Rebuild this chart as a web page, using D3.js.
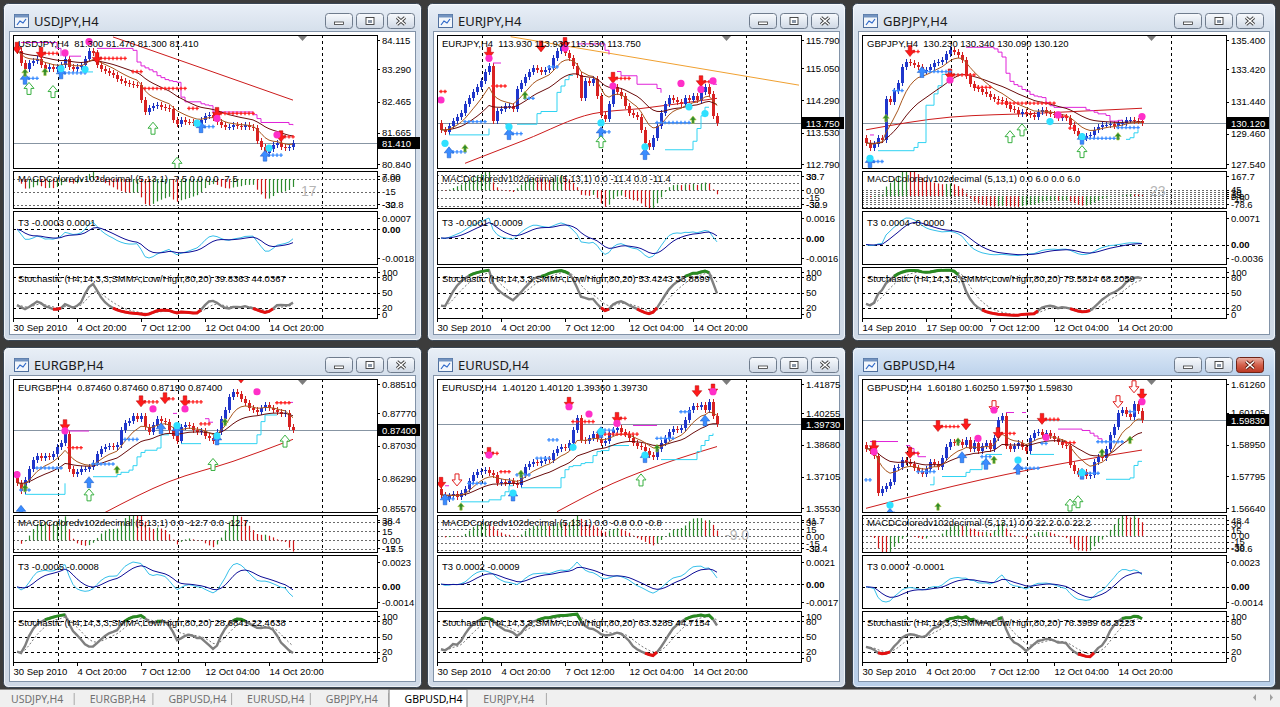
<!DOCTYPE html>
<html>
<head>
<meta charset="utf-8">
<script src="https://cdn.jsdelivr.net/npm/d3@7"></script>
<style>
body { margin: 0; background: #3c3c3c; overflow: hidden; }
svg { display: block; }
.mt { font-family: "Liberation Sans", Arial, sans-serif; font-size: 9.5px; fill: #000; white-space: pre; }
.ttl { font-family: "Noto Sans", sans-serif; font-size: 13px; fill: #1b1b1b; }
.tab { font-family: "Noto Sans", sans-serif; font-size: 10.5px; fill: #707070; }
</style>
</head>
<body>
<script>
//----------DATA----------
var tabNames = ['USDJPY,H4', 'EURGBP,H4', 'GBPUSD,H4', 'EURUSD,H4', 'GBPJPY,H4', 'GBPUSD,H4', 'EURJPY,H4'];
var activeTab = 5;

var timeLabels = ['30 Sep 2010', '4 Oct 20:00', '7 Oct 12:00', '12 Oct 04:00', '14 Oct 20:00'];
var gbpjpyTimeLabels = ['14 Sep 2010', '17 Sep 00:00', '7 Oct 12:00', '12 Oct 04:00', '14 Oct 20:00'];
var timeLabelBars = [-1, 15, 31, 47, 63];
var gridBars = [10.25, 40.25, 76.25];
var gbpjpyGridBars = [21.25, 40.25, 76.25];
var macdLevels = [-75, -60, -45, -30, -15, 0, 15, 30, 45];

// closes, the first value is the close before the first visible bar
var usdjpyClose = [83.90,
  83.75, 83.45, 83.30, 83.45, 83.50, 83.55, 83.40, 83.30, 83.35, 83.30,
  83.35, 83.40, 83.55, 83.35, 83.30, 83.35, 83.40, 83.55, 83.75, 83.70,
  83.40, 83.30, 83.25, 83.20, 83.15, 83.05, 83.00, 82.95, 82.92, 82.90,
  82.88, 82.50, 82.20, 82.30, 82.35, 82.38, 82.33, 82.30, 82.28, 82.00,
  81.90, 82.00, 81.95, 81.93, 81.92, 81.90, 82.00, 82.10, 82.12, 82.05,
  81.95, 81.85, 81.80, 81.80, 81.85, 81.83, 81.82, 81.85, 81.80, 81.78,
  81.45, 81.30, 81.15, 81.25, 81.35, 81.40, 81.30, 81.28, 81.30, 81.41];
var eurjpyClose = [113.75,
  113.60, 113.55, 113.70, 113.80, 113.90, 114.00, 114.20, 114.35, 114.50, 114.60,
  114.75, 114.95, 115.10, 113.80, 114.05, 114.10, 114.15, 114.15, 114.10, 114.55,
  114.70, 114.85, 114.95, 115.05, 115.00, 114.95, 115.00, 115.05, 115.30, 115.45,
  115.55, 115.40, 115.30, 115.10, 114.90, 114.35, 114.75, 114.70, 114.80, 114.40,
  113.95, 113.85, 114.20, 114.60, 114.50, 114.40, 114.15, 114.00, 113.95, 113.90,
  113.60, 113.30, 113.20, 113.40, 113.70, 114.00, 114.20, 114.35, 114.30, 114.25,
  114.20, 114.35, 114.30, 114.40, 114.30, 114.50, 114.60, 114.45, 113.93, 113.75];
var gbpjpyClose = [129.20,
  128.90, 128.60, 128.80, 129.20, 129.10, 131.60, 131.40, 132.10, 132.60, 133.60,
  133.90, 133.80, 133.70, 133.60, 133.30, 133.40, 133.60, 133.80, 133.90, 134.00,
  134.40, 134.60, 134.50, 134.30, 134.00, 133.00, 132.50, 132.30, 132.20, 132.00,
  131.90, 131.70, 131.60, 131.55, 131.50, 131.20, 131.00, 130.90, 130.70, 130.80,
  130.70, 130.60, 130.50, 130.80, 130.90, 130.75, 130.70, 130.60, 130.40, 130.50,
  130.40, 130.00, 129.60, 129.30, 129.20, 129.30, 129.40, 129.70, 129.90, 130.00,
  130.00, 130.05, 129.95, 130.10, 130.15, 130.30, 130.30, 130.25, 130.23, 130.12];
var eurgbpClose = [0.8640,
  0.8620, 0.8600, 0.8625, 0.8650, 0.8670, 0.8680, 0.8675, 0.8680, 0.8677, 0.8685,
  0.8700, 0.8710, 0.8730, 0.8650, 0.8640, 0.8645, 0.8650, 0.8650, 0.8655, 0.8665,
  0.8685, 0.8695, 0.8700, 0.8702, 0.8700, 0.8705, 0.8740, 0.8755, 0.8760, 0.8770,
  0.8765, 0.8770, 0.8745, 0.8735, 0.8750, 0.8765, 0.8760, 0.8758, 0.8740, 0.8725,
  0.8715, 0.8745, 0.8750, 0.8748, 0.8740, 0.8735, 0.8738, 0.8725, 0.8720, 0.8715,
  0.8735, 0.8765, 0.8785, 0.8815, 0.8825, 0.8820, 0.8810, 0.8800, 0.8790, 0.8785,
  0.8780, 0.8790, 0.8795, 0.8790, 0.8785, 0.8780, 0.8775, 0.8778, 0.8746, 0.8740];
var eurusdClose = [1.3650,
  1.3620, 1.3600, 1.3615, 1.3625, 1.3610, 1.3630, 1.3650, 1.3690, 1.3720, 1.3735,
  1.3740, 1.3745, 1.3730, 1.3720, 1.3680, 1.3685, 1.3680, 1.3690, 1.3680, 1.3670,
  1.3720, 1.3760, 1.3775, 1.3785, 1.3780, 1.3790, 1.3800, 1.3795, 1.3830, 1.3850,
  1.3860, 1.3855, 1.3880, 1.3940, 1.4000, 1.3895, 1.3890, 1.3905, 1.3920, 1.3900,
  1.3880, 1.3890, 1.3925, 1.3940, 1.3950, 1.3930, 1.3920, 1.3905, 1.3880, 1.3865,
  1.3860, 1.3840, 1.3820, 1.3810, 1.3850, 1.3880, 1.3905, 1.3930, 1.3945, 1.3940,
  1.3950, 1.3990, 1.4040, 1.4060, 1.4055, 1.4065, 1.4040, 1.4080, 1.4012, 1.3973];
var gbpusdClose = [1.5895,
  1.5880, 1.5870, 1.5855, 1.5720, 1.5735, 1.5745, 1.5760, 1.5810, 1.5815, 1.5840,
  1.5830, 1.5825, 1.5810, 1.5800, 1.5790, 1.5805, 1.5830, 1.5825, 1.5815, 1.5845,
  1.5885, 1.5905, 1.5900, 1.5905, 1.5895, 1.5910, 1.5880, 1.5900, 1.5870, 1.5890,
  1.5900, 1.5880, 1.5920, 1.5985, 1.6000, 1.5890, 1.5880, 1.5890, 1.5900, 1.5885,
  1.5870, 1.5920, 1.5935, 1.5940, 1.5930, 1.5935, 1.5925, 1.5915, 1.5905, 1.5895,
  1.5890, 1.5820, 1.5800, 1.5790, 1.5795, 1.5780, 1.5785, 1.5830, 1.5850, 1.5845,
  1.5880, 1.5930, 1.5960, 1.6010, 1.6020, 1.6005, 1.5995, 1.6040, 1.6018, 1.5983];

// price pane extremes and right-axis labels
var usdjpyRange = [80.76, 84.17];
var eurjpyRange = [112.70, 115.83];
var gbpjpyRange = [127.35, 135.54];
var eurgbpRange = [0.85531, 0.88549];
var eurusdRange = [1.35345, 1.41960];
var gbpusdRange = [1.56507, 1.61322];
var usdjpyTicks = [84.115, 83.290, 82.465, 81.665, 80.840];
var eurjpyTicks = [115.790, 115.050, 114.290, 113.530, 112.790];
var gbpjpyTicks = [135.400, 133.420, 131.440, 129.460, 127.540];
var eurgbpTicks = [0.88510, 0.87770, 0.87030, 0.86290, 0.85570];
var eurusdTicks = [1.41875, 1.40255, 1.38680, 1.37105, 1.35530];
var gbpusdTicks = [1.61260, 1.60105, 1.58950, 1.57795, 1.56640];

var usdjpyHeader = 'USDJPY,H4  81.300 81.470 81.300 81.410';
var eurjpyHeader = 'EURJPY,H4  113.930 113.930 113.530 113.750';
var gbpjpyHeader = 'GBPJPY,H4  130.230 130.340 130.090 130.120';
var eurgbpHeader = 'EURGBP,H4  0.87460 0.87460 0.87190 0.87400';
var eurusdHeader = 'EURUSD,H4  1.40120 1.40120 1.39360 1.39730';
var gbpusdHeader = 'GBPUSD,H4  1.60180 1.60250 1.59730 1.59830';

// slow moving average read as knots [bar, price]
var usdjpyLongMa = [[24, 84.12], [46, 83.33], [69, 82.50]];
var eurjpyLongMa = [[6, 112.81], [21, 113.36], [38, 113.98], [50, 114.10], [69, 114.34]];
var gbpjpyLongMa = [[0, 129.70], [21, 130.48], [43, 130.72], [69, 131.03]];
var eurgbpLongMa = [[22, 0.8552], [38, 0.8622], [54, 0.8668], [69, 0.8718]];
var eurusdLongMa = [[29, 1.3536], [43, 1.3677], [56, 1.3777], [69, 1.3860]];
var gbpusdLongMa = [[0, 1.5664], [29, 1.5768], [54, 1.5839], [69, 1.5875]];
var eurjpyTrend = [[17.4, 115.79], [89.5, 114.65]];

// signal marks: [type, bar, price, dotted length]
var usdjpyMarks = [
  ['sell', 0, 83.83, 0], ['sell', 6, 83.70, 4], ['sell', 20, 83.57, 7], ['sell', 50, 82.16, 9], ['sell', 66, 81.56, 3],
  ['rdots', 29, 83.23, 3], ['rdots', 32, 82.80, 11], ['rdots', 43, 82.29, 3],
  ['buy', 2, 83.06, 3], ['buy', 11, 83.20, 6], ['buy', 46, 81.82, 3], ['buy', 62, 81.09, 4],
  ['hollow', 3, 82.80], ['hollow', 9, 82.72], ['hollow', 34, 81.78], ['hollow', 40, 80.88],
  ['green', 2, 83.20], ['green', 7, 83.22],
  ['pink', 18, 84.00], ['pink', 12, 83.71], ['pink', 50, 82.03], ['pink', 65, 81.61],
  ['cyan', 11, 83.31], ['cyan', 17, 83.29], ['cyan', 45, 81.91], ['cyan', 63, 81.27]];
var eurjpyMarks = [
  ['sell', 12, 115.40, 0], ['sell', 25, 115.55, 0], ['sell', 31, 115.63, 0], ['sell', 43, 114.81, 4], ['sell', 65, 114.73, 3],
  ['rdots', 13, 114.63, 4], ['rdots', 0, 114.50, 2],
  ['buy', 2, 113.08, 4], ['buy', 17, 113.51, 3], ['buy', 40, 113.55, 2], ['buy', 51, 113.04, 0],
  ['bdots', 6, 113.79, 6], ['bdots', 27, 115.08, 3], ['bdots', 21, 114.34, 3], ['bdots', 54, 113.77, 9],
  ['hollow', 40, 113.32],
  ['green', 6, 113.16], ['green', 21, 114.41], ['green', 63, 113.83],
  ['pink', 12, 115.28], ['pink', 31, 115.52], ['pink', 43, 114.63], ['pink', 60, 114.69], ['pink', 65, 114.55], ['pink', 68, 114.75], ['pink', 0, 114.30],
  ['cyan', 1, 113.28], ['cyan', 17, 113.67], ['cyan', 40, 113.76], ['cyan', 51, 113.20], ['cyan', 62, 114.14], ['cyan', 66, 113.98]];
var gbpjpyMarks = [
  ['sell', 11, 134.52, 2], ['sell', 21, 133.08, 6],
  ['rdots', 28, 132.32, 4], ['rdots', 33, 131.34, 15], ['rdots', 49, 130.52, 2], ['rdots', 51, 129.80, 2],
  ['buy', 1, 127.75, 3], ['buy', 14, 133.29, 7], ['buy', 54, 129.18, 9],
  ['bdots', 7, 132.12, 3], ['bdots', 63, 129.84, 6],
  ['hollow', 36, 129.28], ['hollow', 39, 129.70], ['hollow', 54, 128.36],
  ['green', 5, 130.41], ['green', 63, 129.29],
  ['pink', 21, 132.77], ['pink', 48, 130.62], ['pink', 69, 130.52],
  ['cyan', 1, 127.95], ['cyan', 46, 130.21], ['cyan', 54, 129.29]];
var eurgbpMarks = [
  ['sell', 12, 0.8749, 0], ['sell', 31, 0.8803, 4], ['sell', 37, 0.8810, 2], ['sell', 42, 0.8803, 4], ['sell', 56, 0.8857, 4],
  ['rdots', 13, 0.8699, 4], ['rdots', 46, 0.8753, 3], ['rdots', 65, 0.8801, 4],
  ['buy', 1, 0.8557, 0], ['buy', 18, 0.8622, 0], ['buy', 36, 0.8744, 0], ['buy', 40, 0.8740, 0], ['buy', 50, 0.8719, 0],
  ['bdots', 5, 0.8653, 7], ['bdots', 1, 0.8603, 3], ['bdots', 27, 0.8718, 4], ['bdots', 19, 0.8662, 6],
  ['hollow', 18, 0.8592], ['hollow', 49, 0.8661], ['hollow', 67, 0.8714],
  ['green', 2, 0.8607], ['green', 25, 0.8649], ['green', 52, 0.8757],
  ['pink', 12, 0.8737], ['pink', 34, 0.8787], ['pink', 42, 0.8787], ['pink', 60, 0.8826], ['pink', 0, 0.8638],
  ['cyan', 50, 0.8726], ['cyan', 40, 0.8749]];
var eurusdMarks = [
  ['sell', 0, 1.3677, 0], ['sell', 12, 1.3826, 2], ['sell', 32, 1.4075, 0], ['sell', 44, 1.4000, 2], ['sell', 64, 1.4133, 0], ['sell', 68, 1.4141, 0],
  ['rdots', 15, 1.3735, 3], ['rdots', 33, 1.3984, 6], ['rdots', 41, 1.3922, 9],
  ['buy', 1, 1.3600, 2], ['buy', 18, 1.3619, 0], ['buy', 40, 1.3934, 0], ['buy', 51, 1.3810, 0], ['buy', 66, 1.3992, 0],
  ['bdots', 7, 1.3677, 5], ['bdots', 24, 1.3802, 4], ['bdots', 27, 1.3893, 3], ['bdots', 19, 1.3719, 4], ['bdots', 54, 1.3901, 5], ['bdots', 60, 1.4033, 3], ['bdots', 41, 1.3942, 3],
  ['hollow', 50, 1.3694], ['hollowDown', 4, 1.3694],
  ['green', 5, 1.3561], ['green', 20, 1.3723], ['green', 54, 1.3851],
  ['pink', 12, 1.3818], ['pink', 32, 1.4058], ['pink', 37, 1.4022], ['pink', 44, 1.3975], ['pink', 68, 1.4133],
  ['cyan', 33, 1.3856], ['cyan', 40, 1.3934], ['cyan', 51, 1.3818], ['cyan', 18, 1.3629]];
var gbpusdMarks = [
  ['sell', 2, 1.5887, 0], ['sell', 11, 1.5863, 2], ['sell', 18, 1.5960, 5], ['sell', 25, 1.5966, 0], ['sell', 33, 1.5935, 4], ['sell', 44, 1.5986, 4], ['sell', 69, 1.6074, 0],
  ['rdots', 50, 1.5902, 3],
  ['buy', 6, 1.5646, 1], ['buy', 24, 1.5851, 0], ['buy', 30, 1.5827, 0], ['buy', 38, 1.5809, 5], ['buy', 54, 1.5791, 4],
  ['bdots', 0, 1.5767, 2], ['bdots', 13, 1.5797, 5], ['bdots', 44, 1.5899, 2], ['bdots', 58, 1.5905, 7], ['bdots', 29, 1.5851, 3], ['bdots', 66, 1.6014, 2],
  ['hollowDown', 32, 1.6032], ['hollowDown', 63, 1.6050], ['hollowDown', 67, 1.6104],
  ['hollow', 51, 1.5676], ['hollow', 53, 1.5688],
  ['green', 18, 1.5670], ['green', 23, 1.5905], ['green', 32, 1.5839], ['green', 59, 1.5865], ['green', 66, 1.5911],
  ['pink', 2, 1.5869], ['pink', 28, 1.5917], ['pink', 32, 1.6020], ['pink', 45, 1.5921], ['pink', 69, 1.6050],
  ['cyan', 6, 1.5676], ['cyan', 38, 1.5839], ['cyan', 54, 1.5793]];

// indicator sub-window labels
var usdjpyMacdText = 'MACDColoredv102decimal (5,13,1) -7.5 0.0 0.0 -7.5';
var eurjpyMacdText = 'MACDColoredv102decimal (5,13,1) 0.0 -11.4 0.0 -11.4';
var gbpjpyMacdText = 'MACDColoredv102decimal (5,13,1) 0.0 6.0 0.0 6.0';
var eurgbpMacdText = 'MACDColoredv102decimal (5,13,1) 0.0 -12.7 0.0 -12.7';
var eurusdMacdText = 'MACDColoredv102decimal (5,13,1) 0.0 -0.8 0.0 -0.8';
var gbpusdMacdText = 'MACDColoredv102decimal (5,13,1) 0.0 22.2 0.0 22.2';
var usdjpyMacdAxis = [[7, '7.00'], [0, '0.00'], [-15, '-15'], [-30, '-30'], [-32.8, '-32.8']];
var eurjpyMacdAxis = [[33.7, '33.7'], [30, '30'], [0, '0.00'], [-15, '-15'], [-30, '-30'], [-32.9, '-32.9']];
var gbpjpyMacdAxis = [[167.7, '167.7'], [45, '45'], [30, '30'], [15, '15'], [0, '0.00'], [-15, '-15'], [-78.6, '-78.6']];
var eurgbpMacdAxis = [[38.4, '38.4'], [30, '30'], [15, '15'], [0, '0.00'], [-15, '-15'], [-17.5, '-17.5']];
var eurusdMacdAxis = [[41.7, '41.7'], [30, '30'], [15, '15'], [0, '0.00'], [-15, '-15'], [-30, '-30'], [-32.4, '-32.4']];
var gbpusdMacdAxis = [[48.4, '48.4'], [30, '30'], [15, '15'], [0, '0.00'], [-15, '-15'], [-30, '-30'], [-38.6, '-38.6']];
var macdTags = ['17', '', '23', '', '-9.0', ''];

var usdjpyT3Text = 'T3 -0.0003 0.0001';
var eurjpyT3Text = 'T3 -0.0001 -0.0009';
var gbpjpyT3Text = 'T3 0.0004 -0.0000';
var eurgbpT3Text = 'T3 -0.0005 -0.0008';
var eurusdT3Text = 'T3 0.0002 -0.0009';
var gbpusdT3Text = 'T3 0.0007 -0.0001';
var usdjpyT3Axis = ['0.0007', '-0.0018'];
var eurjpyT3Axis = ['0.0016', '-0.0016'];
var gbpjpyT3Axis = ['0.0071', '-0.0036'];
var eurgbpT3Axis = ['0.0023', '-0.0014'];
var eurusdT3Axis = ['0.0021', '-0.0017'];
var gbpusdT3Axis = ['0.0023', '-0.0014'];

var stochName = 'Stochastic (H4,14,3,3,SMMA,Low/High,80,20) ';
var usdjpyStoch = '39.8363 44.0367';
var eurjpyStoch = '53.4243 33.8899';
var gbpjpyStoch = '75.5814 68.2059';
var eurgbpStoch = '28.6841 22.4638';
var eurusdStoch = '63.3285 44.7154';
var gbpusdStoch = '76.3959 68.3223';
var stochAxis = [[100, '100'], [80, '80'], [50, '50'], [20, '20'], [0, '0']];

//----------LAYOUT----------
var colX = [3, 427, 852], colW = [419, 419, 424];
var rowY = [3, 347], rowH = [338, 341];
var P = {l: 10, r: 374, main: [32, 165], macd: [168, 205], t3: [208, 261], stoch: [264, 315], time: 328};
var WICK = 3; // wick length in px drawn above and below each body

var charts = [
  {sym: 'USDJPY', col: 0, row: 0, close: usdjpyClose, range: usdjpyRange, ticks: usdjpyTicks, digits: 3, header: usdjpyHeader, longMa: usdjpyLongMa, trend: null, marks: usdjpyMarks, macdText: usdjpyMacdText, macdAxis: usdjpyMacdAxis, t3Text: usdjpyT3Text, t3Axis: usdjpyT3Axis, stoch: usdjpyStoch, times: timeLabels, grid: gridBars},
  {sym: 'EURJPY', col: 1, row: 0, close: eurjpyClose, range: eurjpyRange, ticks: eurjpyTicks, digits: 3, header: eurjpyHeader, longMa: eurjpyLongMa, trend: eurjpyTrend, marks: eurjpyMarks, macdText: eurjpyMacdText, macdAxis: eurjpyMacdAxis, t3Text: eurjpyT3Text, t3Axis: eurjpyT3Axis, stoch: eurjpyStoch, times: timeLabels, grid: gridBars},
  {sym: 'GBPJPY', col: 2, row: 0, close: gbpjpyClose, range: gbpjpyRange, ticks: gbpjpyTicks, digits: 3, header: gbpjpyHeader, longMa: gbpjpyLongMa, trend: null, marks: gbpjpyMarks, macdText: gbpjpyMacdText, macdAxis: gbpjpyMacdAxis, t3Text: gbpjpyT3Text, t3Axis: gbpjpyT3Axis, stoch: gbpjpyStoch, times: gbpjpyTimeLabels, grid: gbpjpyGridBars},
  {sym: 'EURGBP', col: 0, row: 1, close: eurgbpClose, range: eurgbpRange, ticks: eurgbpTicks, digits: 5, header: eurgbpHeader, longMa: eurgbpLongMa, trend: null, marks: eurgbpMarks, macdText: eurgbpMacdText, macdAxis: eurgbpMacdAxis, t3Text: eurgbpT3Text, t3Axis: eurgbpT3Axis, stoch: eurgbpStoch, times: timeLabels, grid: gridBars},
  {sym: 'EURUSD', col: 1, row: 1, close: eurusdClose, range: eurusdRange, ticks: eurusdTicks, digits: 5, header: eurusdHeader, longMa: eurusdLongMa, trend: null, marks: eurusdMarks, macdText: eurusdMacdText, macdAxis: eurusdMacdAxis, t3Text: eurusdT3Text, t3Axis: eurusdT3Axis, stoch: eurusdStoch, times: timeLabels, grid: gridBars},
  {sym: 'GBPUSD', col: 2, row: 1, close: gbpusdClose, range: gbpusdRange, ticks: gbpusdTicks, digits: 5, header: gbpusdHeader, longMa: gbpusdLongMa, trend: null, marks: gbpusdMarks, macdText: gbpusdMacdText, macdAxis: gbpusdMacdAxis, t3Text: gbpusdT3Text, t3Axis: gbpusdT3Axis, stoch: gbpusdStoch, times: timeLabels, grid: gridBars, active: true}
];

//----------HELPERS----------
function ema(a, n) {
  var k = 2 / (n + 1), out = [], p;
  a.forEach(function (v, i) { p = i === 0 ? v : v * k + p * (1 - k); out.push(p); });
  return out;
}
function smma(a, n) {
  var out = [], p;
  a.forEach(function (v, i) { p = i === 0 ? v : (p * (n - 1) + v) / n; out.push(p); });
  return out;
}
function rolling(a, n, f) {
  return a.map(function (v, i) { return f(a.slice(Math.max(0, i - n + 1), i + 1)); });
}
// factor that fits an oscillator into the range its axis shows
function fitFactor(vals, lmin, lmax) {
  var hmax = d3.max(vals), hmin = d3.min(vals);
  var a = hmax > 0 ? lmax / hmax : Infinity, b = hmin < 0 ? lmin / hmin : Infinity;
  var f = Math.min(a, b);
  return isFinite(f) ? f : 1;
}

//----------SVG----------
var svg = d3.select('body').append('svg').attr('width', 1280).attr('height', 707);
var defs = svg.append('defs');
function grad(id, stops) {
  var lg = defs.append('linearGradient').attr('id', id).attr('x1', 0).attr('y1', 0).attr('x2', 0).attr('y2', 1);
  stops.forEach(function (s) { lg.append('stop').attr('offset', s[0]).attr('stop-color', s[1]); });
}
grad('frameOff', [[0, '#e9eff7'], [0.08, '#d6e0ec'], [1, '#cfd9e6']]);
grad('frameOn', [[0, '#dbe8f7'], [0.08, '#bed3ec'], [1, '#b9cfe9']]);
grad('btn', [[0, '#f8fafd'], [0.5, '#e4eaf2'], [1, '#cfd8e4']]);
grad('btnRed', [[0, '#eab2a6'], [0.5, '#d4604c'], [1, '#b93722']]);

svg.append('rect').attr('width', 1280).attr('height', 707).attr('fill', '#3c3c3c');

function drawFrame(g, c, ww, wh) {
  g.append('rect').attr('x', 0.5).attr('y', 0.5).attr('width', ww - 1).attr('height', wh - 1).attr('rx', 5)
    .attr('fill', c.active ? 'url(#frameOn)' : 'url(#frameOff)').attr('stroke', '#3a4654');
  g.append('rect').attr('x', 1.5).attr('y', 1.5).attr('width', ww - 3).attr('height', wh - 3).attr('rx', 4)
    .attr('fill', 'none').attr('stroke', 'rgba(255,255,255,0.65)');
  g.append('rect').attr('x', 6.5).attr('y', 28.5).attr('width', ww - 13).attr('height', wh - 35)
    .attr('fill', '#fff').attr('stroke', '#8293a8');
  var ic = g.append('g').attr('transform', 'translate(11,11)');
  ic.append('rect').attr('x', 0.5).attr('y', 0.5).attr('width', 14).attr('height', 13).attr('fill', '#f2f6fb').attr('stroke', '#4f6f9d');
  ic.append('rect').attr('x', 0.5).attr('y', 0.5).attr('width', 14).attr('height', 3).attr('fill', '#7393c0');
  ic.append('path').attr('d', 'M3,11 L6,7 L9,9 L12,5').attr('fill', 'none').attr('stroke', '#2c67c9').attr('stroke-width', 1.2);
  g.append('text').attr('class', 'ttl').attr('x', 31).attr('y', 23).text(c.sym + ',H4');
  [322, 353, 384].forEach(function (b, k) {
    var red = c.active && k === 2;
    g.append('rect').attr('x', b + 0.5).attr('y', 10.5).attr('width', 27).attr('height', 15).attr('rx', 3)
      .attr('fill', red ? 'url(#btnRed)' : 'url(#btn)').attr('stroke', red ? '#6e2418' : '#6f7c8d');
    var cx = b + 14, cy = 18;
    if (k === 0) {
      g.append('rect').attr('x', cx - 4.5).attr('y', cy + 1).attr('width', 9).attr('height', 2.5)
        .attr('fill', '#fff').attr('stroke', '#3a3a3a').attr('stroke-width', 0.8);
    } else if (k === 1) {
      g.append('rect').attr('x', cx - 4).attr('y', cy - 3.5).attr('width', 8).attr('height', 7)
        .attr('fill', '#fff').attr('stroke', '#3a3a3a').attr('stroke-width', 0.9);
      g.append('rect').attr('x', cx - 2).attr('y', cy - 1).attr('width', 4).attr('height', 3).attr('fill', '#8a96a6');
    } else {
      var xp = 'M' + (cx - 4) + ',' + (cy - 3.5) + 'L' + (cx + 4) + ',' + (cy + 3.5) + 'M' + (cx + 4) + ',' + (cy - 3.5) + 'L' + (cx - 4) + ',' + (cy + 3.5);
      g.append('path').attr('d', xp).attr('stroke', red ? '#5a1a10' : '#3a3a3a').attr('stroke-width', 3.2);
      g.append('path').attr('d', xp).attr('stroke', '#fff').attr('stroke-width', 1.5);
    }
  });
}

function drawChart(c, ci) {
  var wx = colX[c.col], wy = rowY[c.row], ww = colW[c.col], wh = rowH[c.row];
  var g = svg.append('g').attr('transform', 'translate(' + wx + ',' + wy + ')');
  drawFrame(g, c, ww, wh);

  var cl = c.close.slice(1);
  var bars = cl.map(function (v, i) { return {i: i, o: c.close[i], c: v}; });
  var x = d3.scaleLinear().domain([0, 1]).range([P.l + 4, P.l + 8]);
  var y = d3.scaleLinear().domain(c.range).range([P.main[1], P.main[0]]);
  // high / low of each drawn candle (body plus the drawn wick)
  var wickPrice = WICK * (c.range[1] - c.range[0]) / (P.main[1] - P.main[0]);
  var bh = bars.map(function (b) { return Math.max(b.o, b.c) + wickPrice; });
  var bl = bars.map(function (b) { return Math.min(b.o, b.c) - wickPrice; });

  function pane(name, ext) {
    var id = 'clip' + ci + name;
    defs.append('clipPath').attr('id', id).append('rect')
      .attr('x', P.l + 1).attr('y', ext[0] + 1).attr('width', P.r - P.l - 1).attr('height', ext[1] - ext[0] - 1);
    var pg = g.append('g').attr('clip-path', 'url(#' + id + ')');
    pg.selectAll('line.vg').data(c.grid).enter().append('line')
      .attr('x1', function (b) { return Math.round(x(b)) + 0.5; })
      .attr('x2', function (b) { return Math.round(x(b)) + 0.5; })
      .attr('y1', ext[0]).attr('y2', ext[1])
      .attr('stroke', '#000').attr('stroke-dasharray', '3,3');
    return pg;
  }
  function hline(pg, yy, color, dash) {
    pg.append('line').attr('x1', P.l).attr('x2', P.r)
      .attr('y1', Math.round(yy) + 0.5).attr('y2', Math.round(yy) + 0.5)
      .attr('stroke', color).attr('stroke-dasharray', dash || null);
  }
  function axisText(yy, txt, ext, bold) {
    var ty = Math.max(ext[0] + 5, Math.min(ext[1] - 4, yy));
    g.append('line').attr('x1', P.r).attr('x2', P.r + 3).attr('y1', Math.round(ty) + 0.5).attr('y2', Math.round(ty) + 0.5).attr('stroke', '#000');
    g.append('text').attr('class', 'mt').attr('x', P.r + 5).attr('y', ty + 3.5)
      .style('font-weight', bold ? 'bold' : null).text(txt);
  }
  function frame(ext) {
    g.append('rect').attr('x', P.l + 0.5).attr('y', ext[0] + 0.5).attr('width', P.r - P.l).attr('height', ext[1] - ext[0])
      .attr('fill', 'none').attr('stroke', '#000');
  }

  //----------MAIN PANE----------
  var mg = pane('m', P.main);
  var last = cl[cl.length - 1];
  hline(mg, y(last), '#8795a3');

  var line = d3.line().defined(function (d) { return d != null; })
    .x(function (d, i) { return x(i); }).y(function (d) { return y(d); });
  var knotLine = d3.line().x(function (d) { return x(d[0]); }).y(function (d) { return y(d[1]); });

  if (c.trend) {
    mg.append('path').attr('d', knotLine(c.trend)).attr('fill', 'none').attr('stroke', '#f0a030');
  }
  mg.append('path').attr('d', knotLine.curve(d3.curveMonotoneX)(c.longMa))
    .attr('fill', 'none').attr('stroke', '#cc1b1b');

  // candles
  var cg = mg.append('g').attr('shape-rendering', 'crispEdges');
  cg.selectAll('line').data(bars).enter().append('line')
    .attr('x1', function (d) { return Math.round(x(d.i)) + 0.5; })
    .attr('x2', function (d) { return Math.round(x(d.i)) + 0.5; })
    .attr('y1', function (d) { return y(bh[d.i]); })
    .attr('y2', function (d) { return y(bl[d.i]); })
    .attr('stroke', function (d) { return d.c >= d.o ? '#1b2fb8' : '#cf1f1f'; });
  cg.selectAll('rect').data(bars).enter().append('rect')
    .attr('x', function (d) { return Math.round(x(d.i)) - 1; })
    .attr('width', 3)
    .attr('y', function (d) { return y(Math.max(d.o, d.c)); })
    .attr('height', function (d) { return Math.max(1, Math.abs(y(d.o) - y(d.c))); })
    .attr('fill', function (d) { return d.c >= d.o ? '#1f36cc' : '#d82222'; });

  // moving averages and trailing stops
  var e8 = ema(cl, 8), e21 = ema(cl, 21);
  var hi = rolling(bh, 10, d3.max), lo = rolling(bl, 10, d3.min);
  var upper = hi.map(function (v, i) { return cl[i] < e21[i] ? v : null; });
  var lower = lo.map(function (v, i) { return cl[i] >= e21[i] ? v : null; });
  mg.append('path').attr('d', line.curve(d3.curveStepAfter)(upper)).attr('fill', 'none').attr('stroke', '#e022d8');
  mg.append('path').attr('d', line.curve(d3.curveStepAfter)(lower)).attr('fill', 'none').attr('stroke', '#2fd3f2');
  line.curve(d3.curveLinear);
  mg.append('path').attr('d', line(e21)).attr('fill', 'none').attr('stroke', '#6a0c0c');
  mg.append('path').attr('d', line(e8)).attr('fill', 'none').attr('stroke', '#a8561e');

  // signal marks
  var sg = mg.append('g');
  function dots(bar, price, len, color) {
    for (var k = 1; k <= len; k++) {
      var px = x(bar + k), py = y(price);
      sg.append('path').attr('d', 'M' + (px - 1.8) + ',' + py + 'h3.6M' + px + ',' + (py - 1.8) + 'v3.6')
        .attr('stroke', color).attr('stroke-width', 1.3);
    }
  }
  c.marks.forEach(function (m) {
    var t = m[0], px = x(m[1]), py = y(m[2]);
    var tr = 'translate(' + px + ',' + py + ')';
    if (t === 'sell') {
      dots(m[1], m[2], m[3], '#ff2020');
      sg.append('path').attr('transform', tr).attr('d', 'M-1.8,-6H1.8V-1H4.8L0,5L-4.8,-1H-1.8Z')
        .attr('fill', '#ff1a1a').attr('stroke', '#b00000').attr('stroke-width', 0.5);
    } else if (t === 'buy') {
      dots(m[1], m[2], m[3], '#3a8cff');
      sg.append('path').attr('transform', tr).attr('d', 'M-1.8,6H1.8V1H4.8L0,-5L-4.8,1H-1.8Z')
        .attr('fill', '#3a8cff').attr('stroke', '#1050c0').attr('stroke-width', 0.5);
    } else if (t === 'rdots') {
      dots(m[1] - 1, m[2], m[3], '#ff2020');
    } else if (t === 'bdots') {
      dots(m[1] - 1, m[2], m[3], '#3a8cff');
    } else if (t === 'hollow') {
      sg.append('path').attr('transform', tr).attr('d', 'M0,-6L5,0H2V6H-2V0H-5Z')
        .attr('fill', '#fff').attr('stroke', '#38b040');
    } else if (t === 'hollowDown') {
      sg.append('path').attr('transform', tr).attr('d', 'M0,6L5,0H2V-6H-2V0H-5Z')
        .attr('fill', '#fff').attr('stroke', '#e02020');
    } else if (t === 'green') {
      sg.append('path').attr('transform', tr).attr('d', 'M0,-4L3.2,0H1.2V3.5H-1.2V0H-3.2Z')
        .attr('fill', '#2e8b2e').attr('stroke', '#b0c840').attr('stroke-width', 0.6);
    } else if (t === 'pink') {
      sg.append('circle').attr('cx', px).attr('cy', py).attr('r', 3.6).attr('fill', '#ff2fc8');
    } else if (t === 'cyan') {
      sg.append('circle').attr('cx', px).attr('cy', py).attr('r', 3.6).attr('fill', '#2fe0ff');
    }
  });

  // shift marker
  g.append('path').attr('d', 'M' + (P.r - 79) + ',' + (P.main[0] + 1) + 'h9l-4.5,5z').attr('fill', '#7d7d7d');
  frame(P.main);
  g.append('text').attr('class', 'mt').attr('x', P.l + 5).attr('y', P.main[0] + 12).text(c.header);
  var fmt = d3.format('.' + c.digits + 'f');
  c.ticks.forEach(function (v) { axisText(y(v), fmt(v), P.main); });
  var ly = Math.round(y(last));
  g.append('rect').attr('x', P.r + 1).attr('y', ly - 6).attr('width', 42).attr('height', 12).attr('fill', '#000');
  g.append('text').attr('class', 'mt').attr('x', P.r + 5).attr('y', ly + 3.5).style('fill', '#fff').text(fmt(last));

  //----------MACD----------
  var e5 = ema(cl, 5), e13 = ema(cl, 13);
  var hist = e5.map(function (v, i) { return v - e13[i]; });
  var mAx = c.macdAxis;
  var mMin = d3.min(mAx, function (a) { return a[0]; }), mMax = d3.max(mAx, function (a) { return a[0]; });
  var ym = d3.scaleLinear().domain([mMin, mMax]).range([P.macd[1] - 1, P.macd[0] + 2]);
  var kf = fitFactor(hist, mMin, mMax) * 1.15;
  var mgp = pane('d', P.macd);
  macdLevels.filter(function (v) { return v > mMin && v < mMax; })
    .forEach(function (v) { hline(mgp, ym(v), '#6a6a6a', '2,2'); });
  mgp.selectAll('line.h').data(hist).enter().append('line')
    .attr('x1', function (d, i) { return Math.round(x(i)) + 0.5; })
    .attr('x2', function (d, i) { return Math.round(x(i)) + 0.5; })
    .attr('y1', ym(0)).attr('y2', function (d) { return ym(d * kf); })
    .attr('stroke', function (d, i) { return i > 0 && d < hist[i - 1] ? '#d01818' : '#2d8a2d'; })
    .attr('stroke-width', 1.2);
  if (macdTags[ci]) {
    mgp.append('text').attr('x', x(71)).attr('y', (P.macd[0] + P.macd[1]) / 2 + 6)
      .style('font-family', 'Liberation Sans, sans-serif').style('font-size', '14px').style('fill', '#b5b5b5').text(macdTags[ci]);
  }
  frame(P.macd);
  g.append('text').attr('class', 'mt').attr('x', P.l + 5).attr('y', P.macd[0] + 11).text(c.macdText);
  mAx.forEach(function (a) { axisText(ym(a[0]), a[1], P.macd); });

  //----------T3----------
  var e14 = ema(cl, 14);
  var fast = cl.map(function (v, i) { return (e5[i] - e14[i]) / v; });
  var slow = ema(fast, 6);
  var tMax = +c.t3Axis[0], tMin = +c.t3Axis[1];
  var yt = d3.scaleLinear().domain([tMin, tMax]).range([P.t3[1] - 6, P.t3[0] + 7]);
  var tf = fitFactor(fast.concat(slow), tMin, tMax);
  var tg = pane('t', P.t3);
  hline(tg, yt(0), '#000', '3,3');
  var tLine = d3.line().x(function (d, i) { return x(i); }).y(function (d) { return yt(d * tf); });
  tg.append('path').attr('d', tLine(fast)).attr('fill', 'none').attr('stroke', '#36c0ea');
  tg.append('path').attr('d', tLine(slow)).attr('fill', 'none').attr('stroke', '#0c0c96');
  frame(P.t3);
  g.append('text').attr('class', 'mt').attr('x', P.l + 5).attr('y', P.t3[0] + 15).text(c.t3Text);
  axisText(yt(tMax), c.t3Axis[0], P.t3);
  axisText(yt(0), '0.00', P.t3, true);
  axisText(yt(tMin), c.t3Axis[1], P.t3);

  //----------STOCHASTIC----------
  var hh = rolling(bh, 14, d3.max), ll = rolling(bl, 14, d3.min);
  var raw = cl.map(function (v, i) { var r = hh[i] - ll[i]; return r > 0 ? 100 * (v - ll[i]) / r : 50; });
  var kLine = smma(raw, 3), dLine = smma(kLine, 3);
  var ys = d3.scaleLinear().domain([0, 100]).range([P.stoch[1], P.stoch[0]]);
  var stg = pane('s', P.stoch);
  [80, 50, 20].forEach(function (v) { hline(stg, ys(v), '#000', '3,3'); });
  var sLine = d3.line().defined(function (d) { return d != null; })
    .x(function (d, i) { return x(i); }).y(function (d) { return ys(d); });
  stg.append('path').attr('d', sLine(dLine)).attr('fill', 'none').attr('stroke', '#555').attr('stroke-width', 0.8).attr('stroke-dasharray', '2,2');
  stg.append('path').attr('d', sLine(kLine)).attr('fill', 'none').attr('stroke', '#7f7f7f').attr('stroke-width', 2.4);
  stg.append('path').attr('d', sLine(kLine.map(function (v) { return v >= 80 ? v : null; })))
    .attr('fill', 'none').attr('stroke', '#2a8a22').attr('stroke-width', 3);
  stg.append('path').attr('d', sLine(kLine.map(function (v) { return v <= 20 ? v : null; })))
    .attr('fill', 'none').attr('stroke', '#e41010').attr('stroke-width', 3);
  frame(P.stoch);
  g.append('text').attr('class', 'mt').attr('x', P.l + 5).attr('y', P.stoch[0] + 15).text(stochName + c.stoch);
  stochAxis.forEach(function (a) { axisText(ys(a[0]), a[1], P.stoch); });

  //----------TIME AXIS----------
  c.times.forEach(function (t, k) {
    var tx = Math.round(x(timeLabelBars[k])) + 0.5;
    g.append('line').attr('x1', tx).attr('x2', tx).attr('y1', P.stoch[1]).attr('y2', P.stoch[1] + 4).attr('stroke', '#000');
    g.append('text').attr('class', 'mt').attr('x', tx).attr('y', P.time).text(t);
  });
}

charts.forEach(drawChart);

//----------TAB BAR----------
var tabTop = 689;
svg.append('rect').attr('x', 0).attr('y', tabTop).attr('width', 1280).attr('height', 707 - tabTop).attr('fill', '#f0f0f0');
svg.append('line').attr('x1', 0).attr('x2', 1280).attr('y1', tabTop + 0.5).attr('y2', tabTop + 0.5).attr('stroke', '#8c8c8c');
var tabX = d3.scaleLinear().domain([0, 1]).range([3, 81.7]);
tabNames.forEach(function (name, i) {
  var tx = tabX(i);
  if (i === activeTab) {
    svg.append('rect').attr('x', tx - 7.5).attr('y', tabTop + 0.5).attr('width', 78).attr('height', 18)
      .attr('fill', '#fff').attr('stroke', '#7a7a7a');
  } else if (i !== activeTab + 1) {
    svg.append('line').attr('x1', tabX(i + 1) - 7.5).attr('x2', tabX(i + 1) - 7.5).attr('y1', tabTop + 4).attr('y2', tabTop + 16).attr('stroke', '#a8a8a8');
  }
  svg.append('text').attr('class', 'tab').attr('x', tx + 8).attr('y', 703)
    .style('fill', i === activeTab ? '#000' : '#707070').text(name);
});
svg.append('line').attr('x1', tabX(7) - 7.5).attr('x2', tabX(7) - 7.5).attr('y1', tabTop + 4).attr('y2', tabTop + 16).attr('stroke', '#a8a8a8');
svg.append('path').attr('d', 'M1256,694l-3,3.5l3,3.5z M1270,694l3,3.5l-3,3.5z').attr('fill', '#a0a0a0');
</script>
</body>
</html>
